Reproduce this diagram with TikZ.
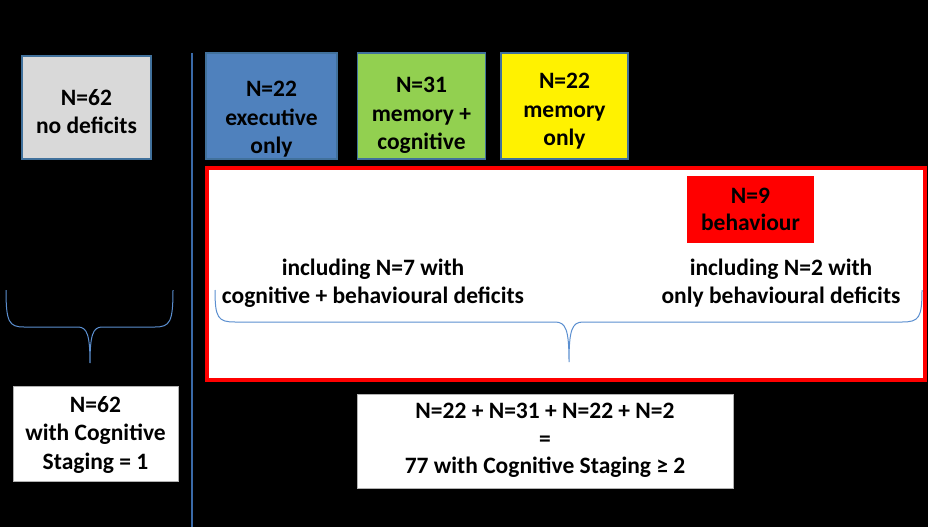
\documentclass[tikz,border=0pt]{standalone}
\usepackage{fontspec}
\setmainfont{Carlito}
\definecolor{exblue}{HTML}{4F81BD}
\definecolor{edgeblue}{HTML}{41719C}
\definecolor{memgreen}{HTML}{92D050}
\definecolor{greyfill}{HTML}{D9D9D9}
\definecolor{brblue}{HTML}{5B8FD0}
\definecolor{divblue}{HTML}{3A6AA8}
\begin{document}
\begin{tikzpicture}[x=1pt,y=-1pt,
  box/.style={draw=edgeblue, line width=1.3pt, inner sep=0pt},
  txt/.style={align=center, font=\fontsize{23.5}{28.5}\selectfont\bfseries, inner sep=0pt, text=black},
  wbox/.style={draw=gray!60, fill=white, line width=0.8pt, inner sep=0pt},
  brace/.style={draw=brblue, line width=1pt}]
\fill[black] (0,0) rectangle (928,527);
\useasboundingbox (0,0) rectangle (928,527);
% vertical divider
\coordinate (vt) at (192,53);
\coordinate (vb) at (192,527);
\draw[divblue, line width=1.3pt] (vt) -- (vb);
% top boxes
\node[box, fill=greyfill, minimum width=129pt, minimum height=103pt] (grey) at (86.5,107.5) {};
\node[txt] (greyt) at (86.5,111.5) {N=62\\no deficits};
\node[box, fill=exblue, minimum width=131pt, minimum height=106pt] (blue) at (271.5,106) {};
\node[txt] (bluet) at (271.5,119.5) {N=22\\executive\\only};
\node[box, fill=memgreen, minimum width=128pt, minimum height=106pt] (green) at (421.5,106) {};
\node[txt] (greent) at (421.5,115.5) {N=31\\memory +\\cognitive};
\node[box, fill=yellow, minimum width=127pt, minimum height=106pt] (yellowb) at (564.5,106) {};
\node[txt] (yellowt) at (564.5,111.5) {N=22\\memory\\only};
% red frame
\node[draw=red, fill=white, line width=3.5pt, minimum width=718pt, minimum height=212pt, inner sep=0pt] (frame) at (566,274) {};
\node[fill=red, minimum width=127pt, minimum height=67pt, inner sep=0pt] (beh) at (750.5,209.5) {};
\node[txt, font=\fontsize{23.5}{27}\selectfont\bfseries] (beht) at (750.5,209.5) {N=9\\behaviour};
\node[txt] (inc7) at (373,283) {including N=7 with\\cognitive + behavioural deficits};
\node[txt] (inc2) at (781,283) {including N=2 with\\only behavioural deficits};
% braces
\coordinate (rb1) at (215,290);
\coordinate (rbt) at (569,362);
\coordinate (rb2) at (922,290);
\draw[brace] (rb1) .. controls (215,318) and (218,322) .. (235,322) -- (555,322)
  .. controls (566,322) and (569,330) .. (rbt)
  .. controls (569,330) and (572,322) .. (583,322) -- (902,322)
  .. controls (919,322) and (922,318) .. (rb2);
\coordinate (lb1) at (6,290);
\coordinate (lbt) at (90,363);
\coordinate (lb2) at (173,290);
\draw[brace] (lb1) .. controls (6,322) and (9,327) .. (24,327) -- (78,327)
  .. controls (87,327) and (90,335) .. (lbt)
  .. controls (90,335) and (93,327) .. (102,327) -- (155,327)
  .. controls (170,327) and (173,322) .. (lb2);
% bottom boxes
\node[wbox, minimum width=165pt, minimum height=95pt] (left) at (95.5,433.5) {};
\node[txt] (leftt) at (95.5,434.5) {N=62\\with Cognitive\\Staging = 1};
\node[wbox, minimum width=376pt, minimum height=94pt] (sum) at (545,441) {};
\node[txt, font=\fontsize{23.5}{27.5}\selectfont\bfseries] (sumt) at (545,440.5) {N=22 + N=31 + N=22 + N=2\\=\\77 with Cognitive Staging ≥ 2};
\end{tikzpicture}
\end{document}
